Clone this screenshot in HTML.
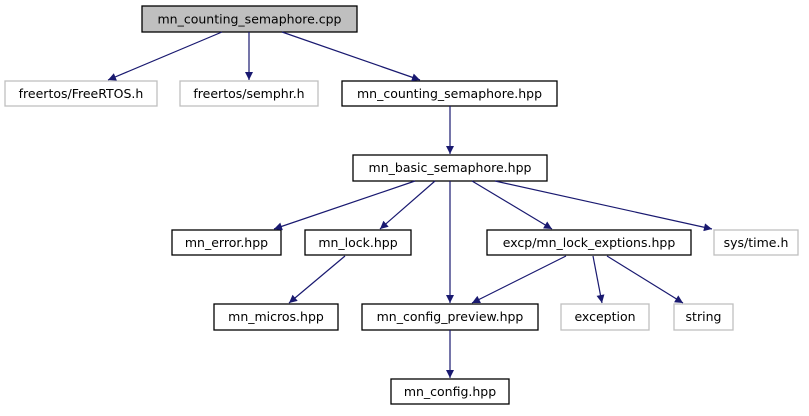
<!DOCTYPE html>
<html><head><meta charset="utf-8"><style>
html,body{margin:0;padding:0;background:#fff;}
text{font-family:"DejaVu Sans","Liberation Sans",sans-serif;font-size:12.5px;fill:#000;text-anchor:middle;}
.n{fill:#fff;stroke:#000;stroke-width:1.3}
.g{fill:#fff;stroke:#bfbfbf;stroke-width:1.3}
.e{stroke:#191970;stroke-width:1.2;fill:none;marker-end:url(#a)}
</style></head><body>
<svg width="809" height="411" viewBox="0 0 809 411" xmlns="http://www.w3.org/2000/svg">
<defs><marker id="a" viewBox="0 0 10 10" refX="10" refY="5" markerWidth="10" markerHeight="8" markerUnits="userSpaceOnUse" orient="auto"><path d="M0,0 L10,5 L0,10 z" fill="#191970"/></marker></defs>
<rect x="142" y="6" width="215" height="26" fill="#bfbfbf" stroke="#000" stroke-width="1.3"/>
<text x="249.5" y="23.5">mn_counting_semaphore.cpp</text>
<rect class="g" x="5" y="81" width="152" height="25"/><text x="81" y="98">freertos/FreeRTOS.h</text>
<rect class="g" x="180" y="81" width="138" height="25"/><text x="249" y="98">freertos/semphr.h</text>
<rect class="n" x="342" y="81" width="215" height="25"/><text x="449.5" y="98">mn_counting_semaphore.hpp</text>
<rect class="n" x="353" y="155" width="194" height="26"/><text x="450" y="172">mn_basic_semaphore.hpp</text>
<rect class="n" x="172" y="230" width="109" height="25"/><text x="226.5" y="247">mn_error.hpp</text>
<rect class="n" x="305" y="230" width="106" height="25"/><text x="358" y="247">mn_lock.hpp</text>
<rect class="n" x="487" y="230" width="204" height="25"/><text x="589" y="247">excp/mn_lock_exptions.hpp</text>
<rect class="g" x="714" y="230" width="84" height="25"/><text x="756" y="247">sys/time.h</text>
<rect class="n" x="214" y="304" width="124" height="26"/><text x="276" y="321">mn_micros.hpp</text>
<rect class="n" x="362" y="304" width="176" height="26"/><text x="450" y="321">mn_config_preview.hpp</text>
<rect class="g" x="561" y="304" width="88" height="26"/><text x="605" y="321">exception</text>
<rect class="g" x="674" y="304" width="59" height="26"/><text x="703.5" y="321">string</text>
<rect class="n" x="391" y="379" width="118" height="25"/><text x="450" y="396">mn_config.hpp</text>
<path class="e" d="M222,32 L108,80"/>
<path class="e" d="M249,32 L249,80"/>
<path class="e" d="M282,32 L420,80"/>
<path class="e" d="M450,106 L450,154"/>
<path class="e" d="M415,181 L274,229"/>
<path class="e" d="M435,181 L380,229"/>
<path class="e" d="M450,181 L450,303"/>
<path class="e" d="M472,181 L552,229"/>
<path class="e" d="M495,181 L712,229"/>
<path class="e" d="M345,256 L289,303"/>
<path class="e" d="M566,256 L472,303"/>
<path class="e" d="M593,256 L602,303"/>
<path class="e" d="M607,256 L683,303"/>
<path class="e" d="M450,330 L450,378"/>
</svg>
</body></html>
